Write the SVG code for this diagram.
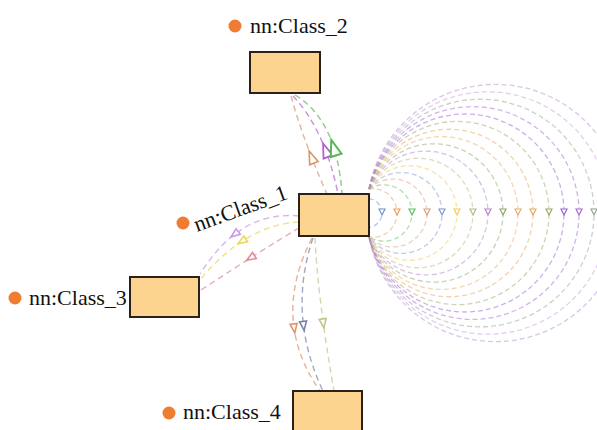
<svg xmlns="http://www.w3.org/2000/svg" width="597" height="430" viewBox="0 0 597 430">
<style>
.box{fill:#fdd48f;stroke:#2a2118;stroke-width:2}
.dot{fill:#ee7d31}
text{font-family:'Liberation Serif','DejaVu Serif',serif;font-size:22px;fill:#111}
.loop{fill:none;stroke-width:1.3;stroke-dasharray:5 3;stroke-opacity:.5}
.la{fill:#fff;stroke-width:1.2}
.edge{fill:none;stroke-width:1.4;stroke-dasharray:6 4;stroke-opacity:.7}
.ea{fill:#fff;stroke-width:1.6}
</style>
<defs>
<path id="tri" d="M-3,-4 L3,-4 L0,2 Z"/>
<path id="big" d="M7,0 L-6,-4.5 L-6,4.5 Z"/>
<path id="small" d="M5,0 L-4,-3.5 L-4,3.5 Z"/>
</defs>
<rect width="597" height="430" fill="#fff"/>
<g id="connectors">
 <g id="loops">
  <path class="loop" stroke="#6f95d0" d="M369 198.6 A14.48 14.48 0 0 1 369 227.4"/>
  <path class="loop" stroke="#e8a15c" d="M369 189 A24.29 24.29 0 1 1 369 237"/>
  <path class="loop" stroke="#5fbf5f" d="M369 189 A28.2 28.2 0 1 1 369 237"/>
  <path class="loop" stroke="#d9a07a" d="M369 189 A33.97 33.97 0 1 1 369 237"/>
  <path class="loop" stroke="#7f9ad0" d="M369 189 A40.45 40.45 0 1 1 369 237"/>
  <path class="loop" stroke="#f2cc55" d="M369 189 A47.27 47.27 0 1 1 369 237"/>
  <path class="loop" stroke="#b9b98a" d="M369 189 A54.77 54.77 0 1 1 369 237"/>
  <path class="loop" stroke="#b784c9" d="M369 189 A61.92 61.92 0 1 1 369 237"/>
  <path class="loop" stroke="#8fa86a" d="M369 189 A69.15 69.15 0 1 1 369 237"/>
  <path class="loop" stroke="#e9ad6a" d="M369 189 A76.43 76.43 0 1 1 369 237"/>
  <path class="loop" stroke="#e6a85a" d="M369 189 A83.76 83.76 0 1 1 369 237"/>
  <path class="loop" stroke="#9fa86b" d="M369 189 A91.6 91.6 0 1 1 369 237"/>
  <path class="loop" stroke="#9d5fd6" d="M369 189 A98.98 98.98 0 1 1 369 237"/>
  <path class="loop" stroke="#a968d4" d="M369 189 A106.4 106.4 0 1 1 369 237"/>
  <path class="loop" stroke="#9aa39a" d="M369 189 A113.8 113.8 0 1 1 369 237"/>
  <path class="loop" stroke="#c79ee0" d="M369 189 A121.2 121.2 0 1 1 369 237"/>
  <path class="loop" stroke="#b78ad6" d="M369 189 A128.6 128.6 0 1 1 369 237"/>
  <use href="#tri" class="la" stroke="#6f95d0" x="382" y="213"/>
  <use href="#tri" class="la" stroke="#e8a15c" x="397" y="213"/>
  <use href="#tri" class="la" stroke="#5fbf5f" x="412" y="213"/>
  <use href="#tri" class="la" stroke="#d9a07a" x="427" y="213"/>
  <use href="#tri" class="la" stroke="#7f9ad0" x="442" y="213"/>
  <use href="#tri" class="la" stroke="#f2cc55" x="457" y="213"/>
  <use href="#tri" class="la" stroke="#b9b98a" x="473" y="213"/>
  <use href="#tri" class="la" stroke="#b784c9" x="488" y="213"/>
  <use href="#tri" class="la" stroke="#8fa86a" x="503" y="213"/>
  <use href="#tri" class="la" stroke="#e9ad6a" x="518" y="213"/>
  <use href="#tri" class="la" stroke="#e6a85a" x="533" y="213"/>
  <use href="#tri" class="la" stroke="#9fa86b" x="549" y="213"/>
  <use href="#tri" class="la" stroke="#9d5fd6" x="564" y="213"/>
  <use href="#tri" class="la" stroke="#a968d4" x="579" y="213"/>
  <use href="#tri" class="la" stroke="#9aa39a" x="594" y="213"/>
 </g>
 <g id="edges-1-2">
  <path class="edge" stroke="#d9956a" d="M291 96 Q303 140 327 194"/>
  <path class="edge" stroke="#b45ed0" d="M293 96 Q325 130 338 194"/>
  <path class="edge" stroke="#55b855" d="M295 95 Q337 120 342 194"/>
  <use href="#big" class="ea" stroke="#d9956a" transform="translate(311.7 157.5) rotate(-111.4)"/>
  <use href="#big" class="ea" stroke="#b45ed0" transform="translate(325.8 150.7) rotate(-110.8) scale(1.1)"/>
  <use href="#big" class="ea" stroke="#55b855" transform="translate(333.9 148.2) rotate(-107.5) scale(1.25)"/>
 </g>
 <g id="edges-1-3">
  <path class="edge" stroke="#c99ae0" d="M299 216 Q240 210 200 274"/>
  <path class="edge" stroke="#ead65a" d="M299 222 Q245 225 200 280"/>
  <path class="edge" stroke="#e08a9a" d="M299 228 Q262 250 201 290"/>
  <use href="#small" class="ea" stroke="#c99ae0" transform="translate(235 234) rotate(142.9)"/>
  <use href="#small" class="ea" stroke="#ead65a" transform="translate(242.3 241) rotate(147.2)"/>
  <use href="#small" class="ea" stroke="#e08a9a" transform="translate(251 257.6) rotate(147.6)"/>
 </g>
 <g id="edges-1-4">
  <path class="edge" stroke="#e0926a" d="M312 238 Q270 320 320 391"/>
  <path class="edge" stroke="#7b80a8" d="M313 238 Q287 315 323 391"/>
  <path class="edge" stroke="#c4c48a" d="M315 238 Q318 300 334 391"/>
  <use href="#small" class="ea" stroke="#e0926a" transform="translate(294.1 327.9) rotate(82.1)"/>
  <use href="#small" class="ea" stroke="#7b80a8" transform="translate(303.5 325.4) rotate(83.1)"/>
  <use href="#small" class="ea" stroke="#c4c48a" transform="translate(323.2 322.9) rotate(82.3)"/>
 </g>
</g>
<g id="Class_2">
 <rect class="box" x="250" y="52" width="70" height="41"/>
 <circle class="dot" cx="235" cy="26" r="6.5"/>
 <text x="250" y="33" font-family="Liberation Serif, serif">nn:Class_2</text>
</g>
<g id="Class_1">
 <rect class="box" x="299" y="194" width="70" height="42"/>
 <circle class="dot" cx="183" cy="223" r="6.5"/>
 <text x="197" y="232" transform="rotate(-20 197 232)" font-family="Liberation Serif, serif">nn:Class_1</text>
</g>
<g id="Class_3">
 <rect class="box" x="130" y="277" width="69" height="40"/>
 <circle class="dot" cx="15" cy="298" r="6.5"/>
 <text x="29" y="305" font-family="Liberation Serif, serif">nn:Class_3</text>
</g>
<g id="Class_4">
 <rect class="box" x="293" y="391" width="69" height="41"/>
 <circle class="dot" cx="169" cy="413" r="6.5"/>
 <text x="183" y="419" font-family="Liberation Serif, serif">nn:Class_4</text>
</g>
</svg>
